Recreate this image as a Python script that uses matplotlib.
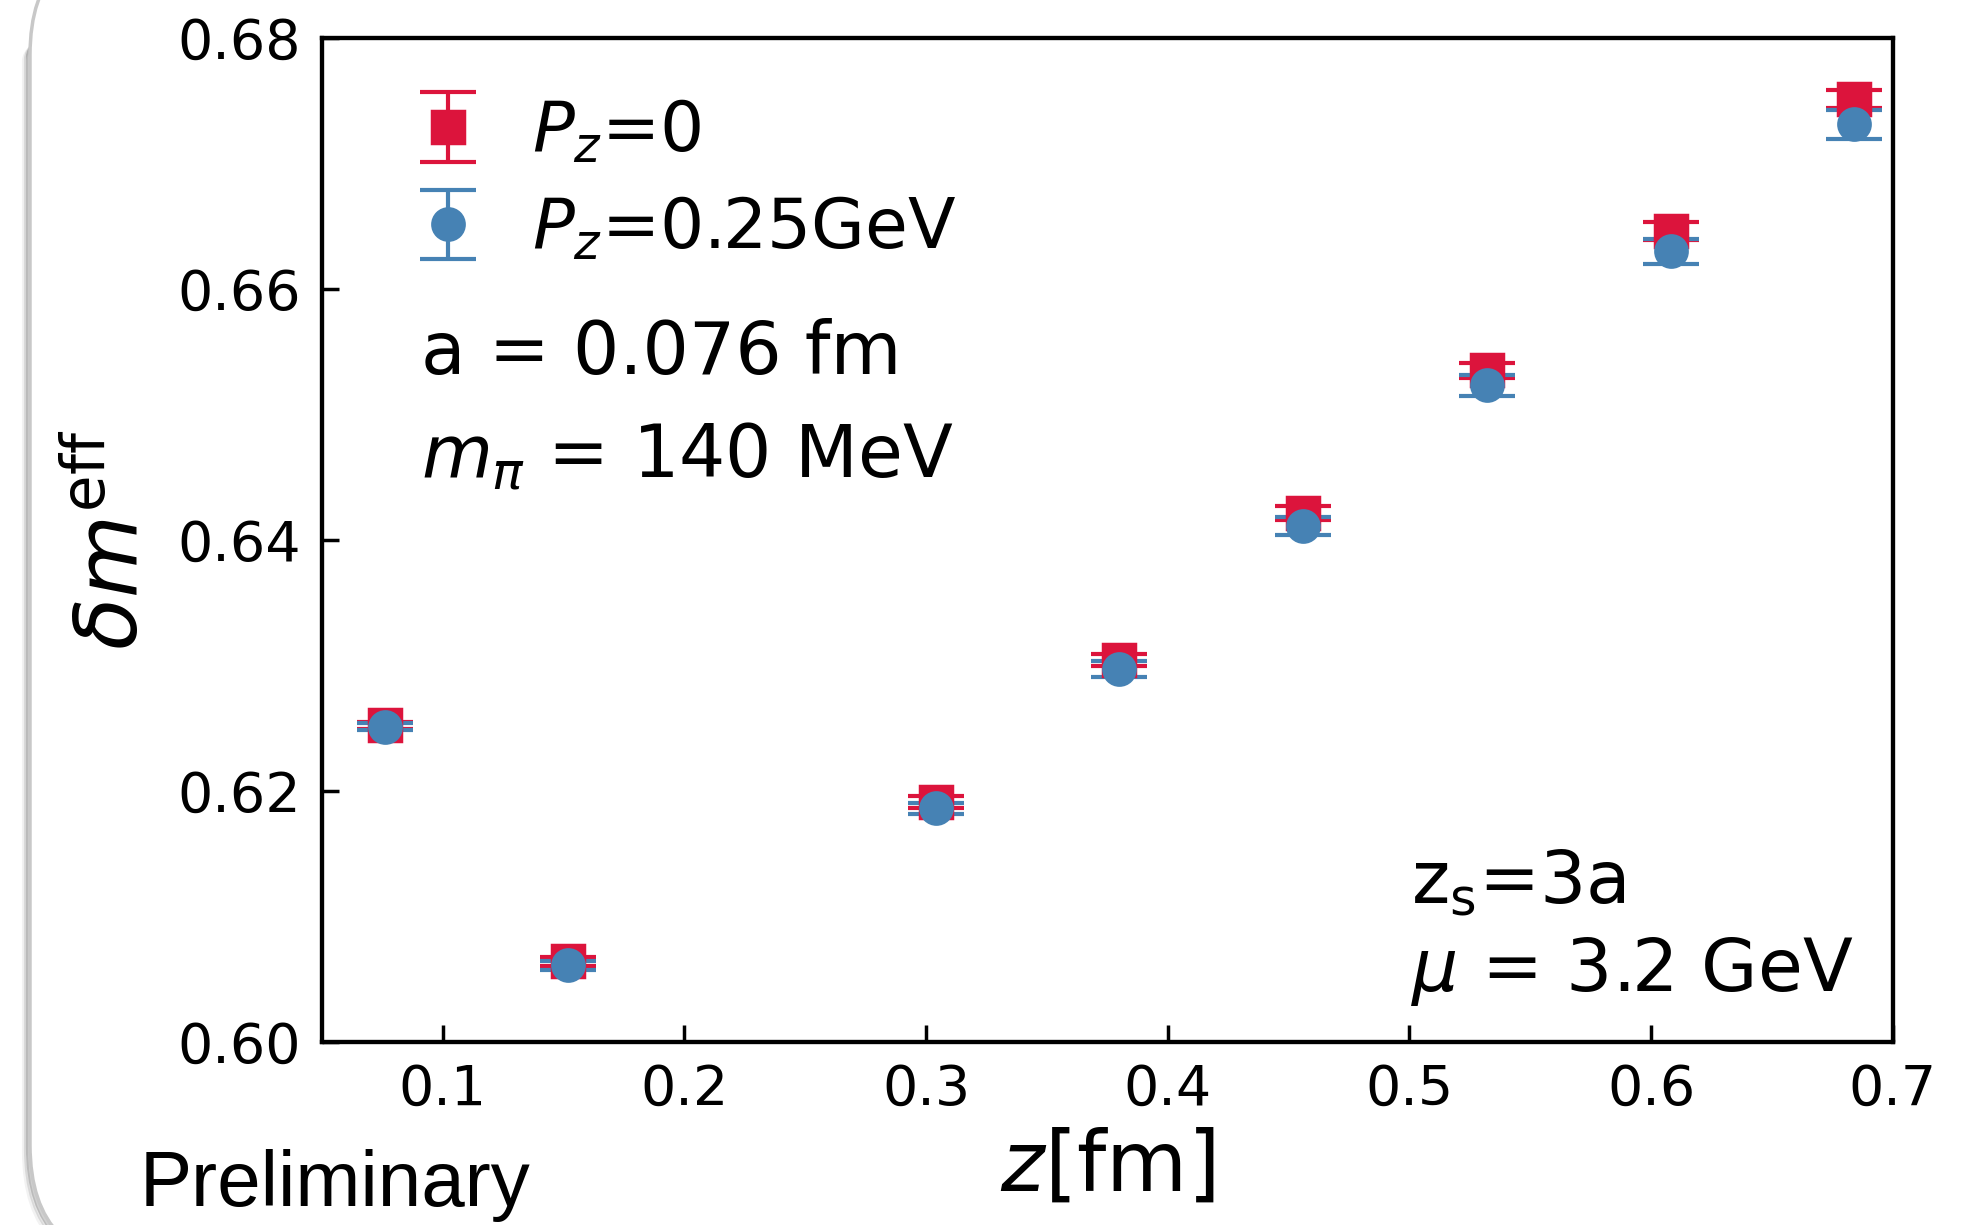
import matplotlib
matplotlib.use("Agg")
import matplotlib.pyplot as plt
from matplotlib.patches import FancyBboxPatch

# ── Data ──────────────────────────────────────────────────────────────────────
z_fm     = [0.076, 0.152, 0.304, 0.380, 0.456, 0.532, 0.608, 0.684]
dm_p0    = [0.6252, 0.6064, 0.6191, 0.6304, 0.6421, 0.6535, 0.6646, 0.6751]
err_p0   = [0.0003, 0.00033, 0.00046, 0.00048, 0.00056, 0.0006, 0.00068, 0.00073]
dm_p025  = [0.6251, 0.6061, 0.6186, 0.6297, 0.6411, 0.6523, 0.6630, 0.6731]
err_p025 = [0.0003, 0.00036, 0.00046, 0.0006, 0.00073, 0.00086, 0.0010, 0.00113]

x_ticks = [0.1, 0.2, 0.3, 0.4, 0.5, 0.6, 0.7]
y_ticks = [0.60, 0.62, 0.64, 0.66, 0.68]

RED  = "crimson"
BLUE = "steelblue"

W, H, DPI = 1963, 1225, 250
fig = plt.figure(figsize=(W / DPI, H / DPI), dpi=DPI)

# ── slide-panel rounded frame behind the plot ────────────────────────────────
bg = fig.add_axes([0, 0, 1, 1], zorder=0)
bg.set_xlim(0, W)
bg.set_ylim(0, H)
bg.axis("off")
for off, a in [(6, 0.05), (4, 0.10), (2, 0.18)]:
    bg.add_patch(FancyBboxPatch((30 - off, -40 - off), 2200, 1330,
                                boxstyle="round,pad=0,rounding_size=120",
                                fc="none", ec="black", lw=1.2, alpha=a))
bg.add_patch(FancyBboxPatch((30, -40), 2200, 1330,
                            boxstyle="round,pad=0,rounding_size=120",
                            fc="white", ec="#c8c8c8", lw=1.0))

# ── main axes ────────────────────────────────────────────────────────────────
ax = fig.add_axes([0.1639, 0.1496, 0.8004, 0.8196], zorder=1)
ax.errorbar(z_fm, dm_p0, yerr=err_p0, fmt="s", color=RED, ms=9,
            capsize=8, elinewidth=1.2, capthick=1.2, label=r"$P_z$=0")
ax.errorbar(z_fm, dm_p025, yerr=err_p025, fmt="o", color=BLUE, ms=9,
            capsize=8, elinewidth=1.2, capthick=1.2, label=r"$P_z$=0.25GeV")

ax.set_xlim(0.05, 0.7)
ax.set_ylim(0.60, 0.68)
ax.set_xticks(x_ticks)
ax.set_yticks(y_ticks)
ax.set_xticklabels([f"{t:.1f}" for t in x_ticks])
ax.set_yticklabels([f"{t:.2f}" for t in y_ticks])
ax.tick_params(direction="in", length=5, width=1.0, labelsize=16, pad=6)
for s in ax.spines.values():
    s.set_linewidth(1.25)

ax.set_xlabel(r"$z$[fm]", fontsize=24, labelpad=3)
ax.set_ylabel(r"$\delta m^{\rm eff}$", fontsize=24.5, labelpad=6)

ax.legend(loc="upper left", bbox_to_anchor=(0.058, 0.94), frameon=False,
          fontsize=20, borderpad=0, borderaxespad=0, handlelength=1.0,
          handletextpad=0.71, labelspacing=0.43)

ax.text(0.063, 0.685, "a = 0.076 fm", transform=ax.transAxes,
        fontsize=21, va="center", ha="left")
ax.text(0.063, 0.583, r"$m_\pi$ = 140 MeV", transform=ax.transAxes,
        fontsize=21, va="center", ha="left")
ax.text(0.693, 0.158, r"z$_\mathrm{s}$=3a", transform=ax.transAxes,
        fontsize=21, va="center", ha="left")
ax.text(0.693, 0.070, r"$\mu$ = 3.2 GeV", transform=ax.transAxes,
        fontsize=21, va="center", ha="left")

fig.text(140 / W, 1 - 1206 / H, "Preliminary", fontsize=22.5,
         family="Liberation Sans", ha="left", va="baseline")

fig.savefig("out.png", dpi=DPI)
